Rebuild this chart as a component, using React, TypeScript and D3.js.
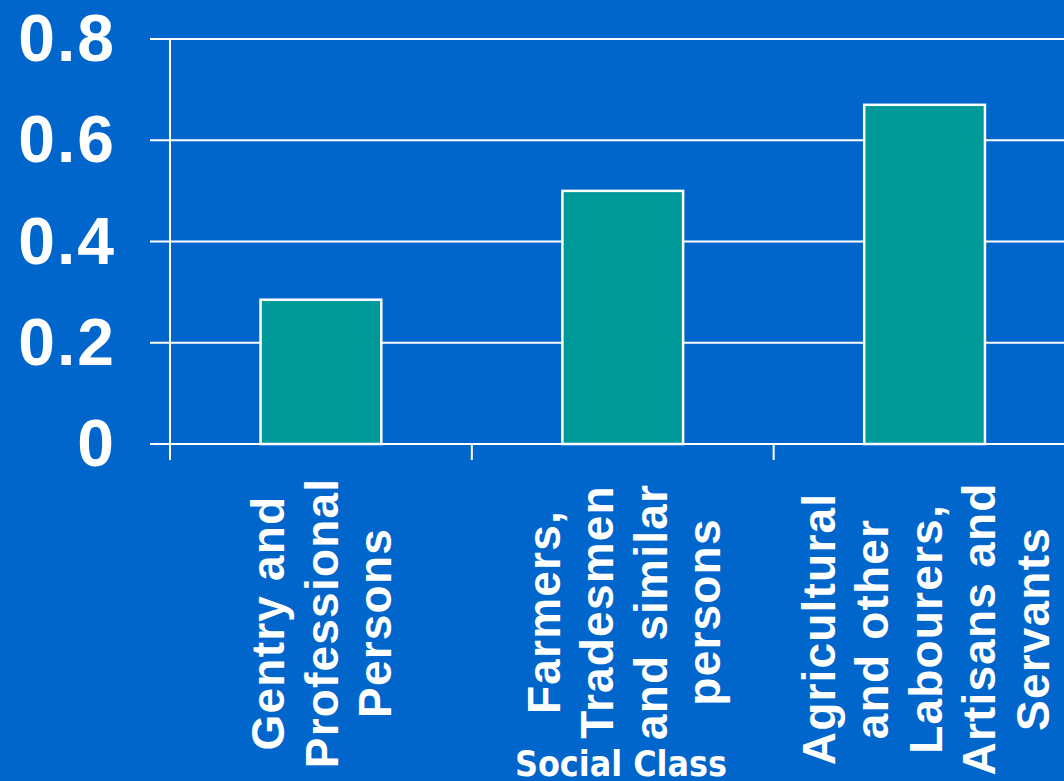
import React from "react";
import * as d3 from "d3";

const categories: string[] = ["Gentry", "Farmers", "Labourers"];
const categoryLines: string[][] = [
  ["Gentry and", "Professional", "Persons"],
  ["Farmers,", "Tradesmen", "and similar", "persons"],
  ["Agricultural", "and other", "Labourers,", "Artisans and", "Servants"],
];
const values: number[] = [0.285, 0.5, 0.67];
const yTicks: number[] = [0, 0.2, 0.4, 0.6, 0.8];
const yTickLabels: string[] = ["0", "0.2", "0.4", "0.6", "0.8"];
const xTitle = "Social Class";

const W = 1064;
const H = 781;
const BG = "#0066cc";
const BAR = "#009999";

export default function App() {
  const y = d3.scaleLinear().domain([0, 0.8]).range([444, 39]);
  const x = d3
    .scaleBand<string>()
    .domain(categories)
    .range([170, 1075.5])
    .paddingInner(0.6)
    .paddingOuter(0.3);
  const step = x.step();
  const boundaries = d3.range(categories.length + 1).map((i) => 170 + i * step);
  const lineH = 53.5;
  const labelCenterYs = [623, 612, 629];

  return (
    <svg
      width={W}
      height={H}
      style={{ position: "absolute", left: 0, top: 0, display: "block" }}
    >
      <rect x={0} y={0} width={W} height={H} fill={BG} />
      {/* gridlines */}
      {yTicks.map((t) => (
        <line
          key={"g" + t}
          x1={150}
          x2={W}
          y1={y(t)}
          y2={y(t)}
          stroke="#fff"
          strokeWidth={2}
        />
      ))}
      {/* y axis */}
      <line x1={170} x2={170} y1={y(0.8)} y2={460} stroke="#fff" strokeWidth={2} />
      {/* x ticks */}
      {boundaries.map((b, i) => (
        <line key={"xt" + i} x1={b} x2={b} y1={y(0)} y2={460} stroke="#fff" strokeWidth={2} />
      ))}
      {/* bars */}
      {categories.map((c, i) => (
        <rect
          key={c}
          x={x(c)!}
          y={y(values[i])}
          width={x.bandwidth()}
          height={y(0) - y(values[i])}
          fill={BAR}
          stroke="#fff"
          strokeWidth={2.5}
        />
      ))}
      {/* y tick labels */}
      {yTicks.map((t, i) => (
        <text
          key={"yl" + t}
          x={116}
          y={y(t) + 22}
          textAnchor="end"
          fill="#fff"
          fontFamily="'Liberation Sans', Arial, sans-serif"
          fontWeight="bold"
          fontSize={66}
          letterSpacing={2}
        >
          {yTickLabels[i]}
        </text>
      ))}
      {/* category labels */}
      {categories.map((c, i) => {
        const cx = x(c)! + x.bandwidth() / 2;
        const lines = categoryLines[i];
        const n = lines.length;
        return (
          <g key={"cl" + c} transform={`translate(${cx},${labelCenterYs[i]}) rotate(-90)`}>
            {lines.map((ln, j) => (
              <text
                key={j}
                x={0}
                y={(j - (n - 1) / 2) * lineH + 17}
                textAnchor="middle"
                fill="#fff"
                fontFamily="'Liberation Sans', Arial, sans-serif"
                fontWeight="bold"
                fontSize={46}
                letterSpacing={1.2}
              >
                {ln}
              </text>
            ))}
          </g>
        );
      })}
      {/* x title */}
      <text
        x={621}
        y={776}
        textAnchor="middle"
        fill="#fff"
        fontFamily="'DejaVu Sans', Verdana, sans-serif"
        fontWeight="bold"
        fontSize={35}
        textLength={212}
        lengthAdjust="spacingAndGlyphs"
      >
        {xTitle}
      </text>
    </svg>
  );
}
